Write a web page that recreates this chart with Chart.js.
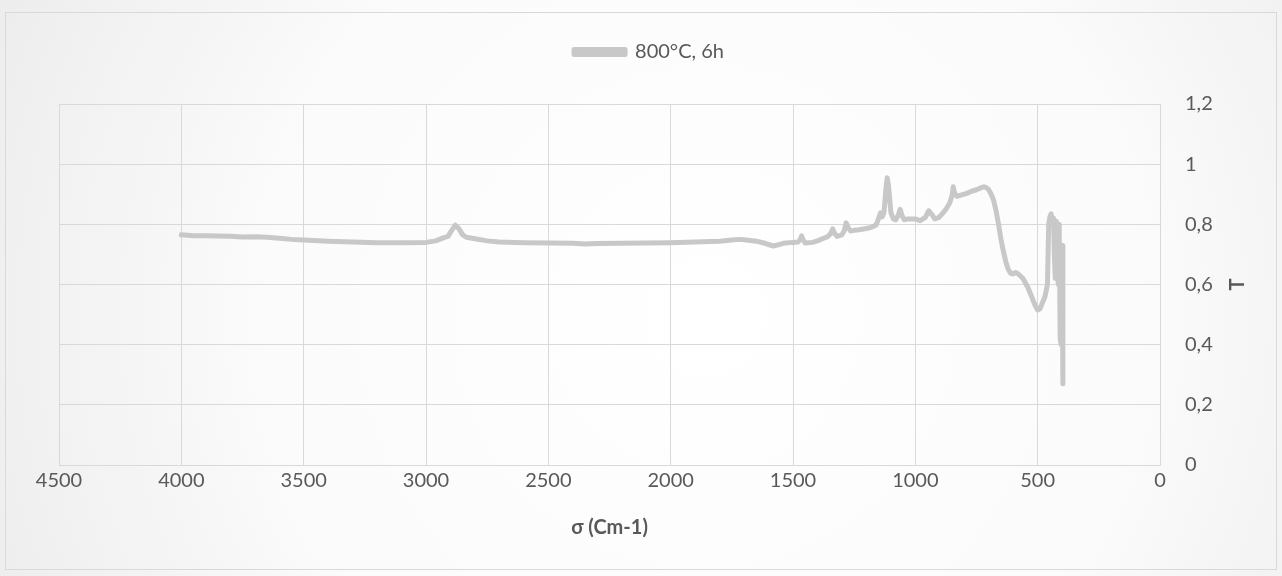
<!DOCTYPE html>
<html>
<head>
<meta charset="utf-8">
<script src="https://cdn.jsdelivr.net/npm/chart.js@4.4.0/dist/chart.umd.min.js"></script>
<style>
  html, body { margin: 0; padding: 0; background: #ffffff; }
  #wrap { position: relative; width: 1282px; height: 576px; }
</style>
</head>
<body>
<div id="wrap"><canvas id="c" width="1282" height="576"></canvas></div>
<script>
// ---- data ----
const seriesName = "800°C, 6h";
const xTitle = "σ (Cm-1)";
const yTitle = "T";
const wavenumbers = [4000,3950,3900,3850,3800,3750,3700,3650,3600,3550,3500,3400,3300,3200,3100,3000,2960,2930,2910,2895,2880,2865,2850,2835,2800,2750,2700,2600,2500,2400,2350,2300,2200,2100,2000,1900,1800,1750,1720,1700,1650,1620,1600,1580,1560,1540,1500,1480,1470,1465,1460,1450,1420,1400,1380,1360,1345,1338,1330,1320,1300,1290,1283,1275,1265,1250,1230,1200,1180,1160,1150,1142,1135,1128,1120,1115,1110,1100,1090,1080,1070,1062,1055,1045,1030,1000,980,960,945,935,920,905,890,875,860,850,845,840,830,810,790,770,750,730,720,710,700,690,680,670,660,650,640,630,620,610,600,590,580,570,560,550,540,530,520,510,500,490,480,470,460,455,450,445,440,435,432,428,424,420,416,412,408,404,400,397];
const transmittance = [0.765,0.762,0.762,0.761,0.760,0.758,0.759,0.757,0.754,0.750,0.748,0.744,0.741,0.739,0.739,0.740,0.745,0.755,0.760,0.780,0.797,0.785,0.765,0.757,0.752,0.745,0.741,0.739,0.738,0.737,0.735,0.736,0.737,0.738,0.739,0.741,0.744,0.748,0.750,0.749,0.744,0.738,0.733,0.728,0.732,0.737,0.740,0.741,0.750,0.762,0.750,0.738,0.740,0.745,0.752,0.758,0.770,0.785,0.770,0.760,0.765,0.780,0.805,0.790,0.778,0.780,0.782,0.786,0.790,0.798,0.820,0.838,0.825,0.840,0.920,0.955,0.930,0.840,0.818,0.815,0.830,0.850,0.830,0.815,0.818,0.818,0.812,0.822,0.845,0.835,0.818,0.822,0.835,0.850,0.870,0.895,0.925,0.905,0.893,0.898,0.903,0.910,0.915,0.922,0.925,0.922,0.915,0.900,0.880,0.845,0.800,0.750,0.710,0.675,0.650,0.637,0.635,0.640,0.635,0.628,0.620,0.605,0.590,0.570,0.550,0.530,0.515,0.520,0.540,0.560,0.600,0.800,0.825,0.835,0.800,0.820,0.700,0.620,0.810,0.780,0.600,0.800,0.420,0.400,0.730,0.270];
const xTicks = [4500,4000,3500,3000,2500,2000,1500,1000,500,0];
const yTicks = [0,0.2,0.4,0.6,0.8,1,1.2];

const points = wavenumbers.map((w, i) => ({ x: w, y: transmittance[i] }));

const FONT = "Lato, 'Open Sans', sans-serif";
const TXT = "#595959";
const GRID = "#d9d9d9";

const legendHeightPlugin = {
  id: "legH",
  beforeLayout(chart) {
    const lg = chart.legend;
    if (lg && !lg._patched) {
      const f = lg.fit;
      lg.fit = function () { f.call(this); this.height = 104; };
      lg._patched = true;
    }
  }
};

const bgPlugin = {
  id: "bg",
  beforeDraw(chart) {
    const ctx = chart.ctx;
    const W = chart.width, H = chart.height;
    ctx.save();
    const g = ctx.createRadialGradient(W * 0.55, H * 0.55, 0, W * 0.55, H * 0.55, W * 0.62);
    g.addColorStop(0, "#ffffff");
    g.addColorStop(0.55, "#fbfbfb");
    g.addColorStop(1, "#ececec");
    ctx.fillStyle = g;
    ctx.fillRect(0, 0, W, H);
    ctx.strokeStyle = "#d9d9d9";
    ctx.lineWidth = 1;
    ctx.strokeRect(5.5, 12.5, W - 11, H - 19);
    ctx.restore();
  },
  afterDraw(chart) {
    const ctx = chart.ctx;
    const a = chart.chartArea;
    ctx.save();
    ctx.translate(1238, (a.top + a.bottom) / 2);
    ctx.rotate(-Math.PI / 2);
    ctx.fillStyle = TXT;
    ctx.font = "bold 20px " + FONT;
    ctx.textAlign = "center";
    ctx.textBaseline = "middle";
    ctx.fillText(yTitle, 0, 0);
    ctx.restore();
  }
};

new Chart(document.getElementById("c"), {
  type: "line",
  data: {
    datasets: [{
      label: seriesName,
      data: points,
      borderColor: "#c8c8c8",
      backgroundColor: "#c8c8c8",
      borderWidth: 5,
      pointRadius: 0,
      tension: 0,
      fill: false,
      borderCapStyle: "round",
      borderJoinStyle: "round"
    }]
  },
  options: {
    responsive: false,
    animation: false,
    devicePixelRatio: 1,
    layout: { padding: { top: 0, left: 59, right: 43, bottom: 0 } },
    plugins: {
      legend: {
        display: true,
        position: "top",
        labels: {
          boxWidth: 51,
          boxHeight: 5,
          padding: 42,
          color: TXT,
          font: { family: FONT, size: 20 }
        }
      },
      tooltip: { enabled: false }
    },
    scales: {
      x: {
        type: "linear",
        reverse: true,
        min: 0,
        max: 4500,
        afterBuildTicks(s) { s.ticks = xTicks.map(v => ({ value: v })); },
        afterFit(s) { s.height = 111; },
        ticks: {
          color: TXT,
          font: { family: FONT, size: 20 },
          padding: 4,
          maxRotation: 0,
          autoSkip: false,
          callback: v => String(v)
        },
        grid: { color: GRID, lineWidth: 1, drawTicks: false },
        border: { color: GRID },
        title: {
          display: true,
          text: xTitle,
          color: TXT,
          font: { family: FONT, size: 20, weight: "bold" },
          padding: { top: 0, bottom: 36 }
        }
      },
      y: {
        type: "linear",
        position: "right",
        min: 0,
        max: 1.2,
        afterBuildTicks(s) { s.ticks = yTicks.map(v => ({ value: v })); },
        afterFit(s) { s.width = 79; },
        ticks: {
          color: TXT,
          font: { family: FONT, size: 20 },
          padding: 25,
          callback: v => String(Math.round(v * 10) / 10).replace(".", ",")
        },
        grid: { color: GRID, lineWidth: 1, drawTicks: false },
        border: { color: GRID }
      }
    }
  },
  plugins: [legendHeightPlugin, bgPlugin]
});
</script>
</body>
</html>
